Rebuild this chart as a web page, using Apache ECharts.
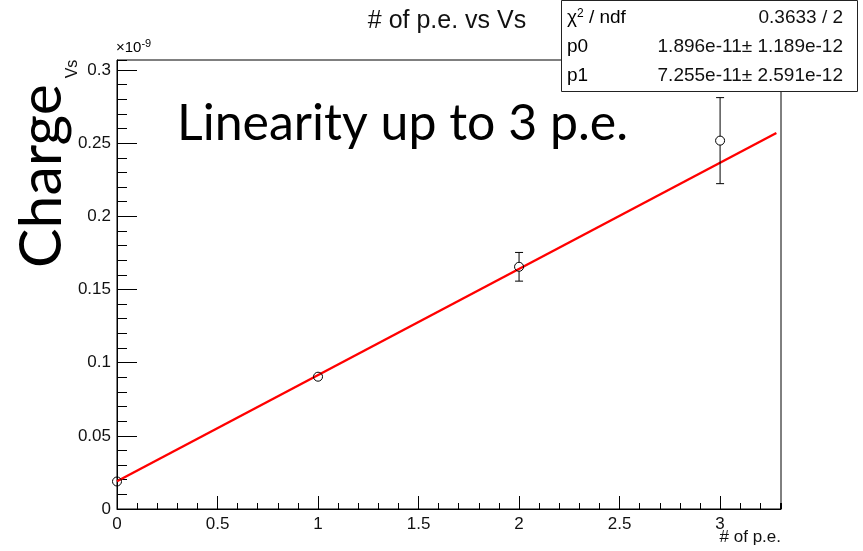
<!DOCTYPE html>
<html>
<head>
<meta charset="utf-8">
<script src="https://cdn.jsdelivr.net/npm/echarts@6/dist/echarts.min.js"></script>
<style>
  html, body { margin: 0; padding: 0; background: #fff; }
  #chart { width: 863px; height: 551px; }
</style>
</head>
<body>
<div id="chart"></div>
<script>
// Measured charge (units of 1e-9 Vs) vs number of photo-electrons
const pe = [0, 1, 2, 3];
const charge = [0.0188, 0.0904, 0.1655, 0.2517];
const chargeErr = [0.0012, 0.0025, 0.0098, 0.0294];

// Linear fit pol1: p0 + p1 * x   (Vs)
const p0 = 1.896e-11;
const p1 = 7.255e-11;
const fitRange = [0, 3.28];
const unitScale = 1e9;   // axis is shown in units of 1e-9

// Stats box rows
const statLabels = ['{n|χ}{sup|2}{n| / ndf}', 'p0', 'p1'];
const statValues = ['0.3633 / 2', '1.896e-11± 1.189e-12', '7.255e-11± 2.591e-12'];

// Axis ranges
const xMax = 3.303;
const yMax = 0.3068;

const fitLine = fitRange.map(x => [x, (p0 + p1 * x) * unitScale]);
const points = pe.map((x, i) => [x, charge[i], chargeErr[i]]);

const labelFont = 'Liberation Sans, Arial, sans-serif';
const fmt = v => String(Number(v.toFixed(4)));

const chart = echarts.init(document.getElementById('chart'), null, { renderer: 'canvas' });

const majorX = {
  type: 'value', min: 0, max: xMax, interval: 0.5,
  axisLine: { show: true, lineStyle: { color: '#000', width: 1 } },
  axisTick: { show: true, inside: true, length: 13, lineStyle: { color: '#000' } },
  axisLabel: {
    show: true, color: '#111', fontSize: 17, fontFamily: labelFont, margin: 7,
    showMaxLabel: false,
    formatter: v => (Math.abs(v / 0.5 - Math.round(v / 0.5)) < 1e-6 ? fmt(v) : '')
  },
  splitLine: { show: false }
};
const majorY = {
  type: 'value', min: 0, max: yMax, interval: 0.05,
  axisLine: { show: true, lineStyle: { color: '#000', width: 1 } },
  axisTick: { show: true, inside: true, length: 20, lineStyle: { color: '#000' } },
  axisLabel: {
    show: true, color: '#111', fontSize: 17, fontFamily: labelFont, margin: 6,
    showMaxLabel: false,
    formatter: v => (Math.abs(v / 0.05 - Math.round(v / 0.05)) < 1e-6 ? fmt(v) : '')
  },
  splitLine: { show: false }
};
const minorX = {
  type: 'value', gridIndex: 1, min: 0, max: xMax, interval: 0.1,
  axisLine: { show: false },
  axisTick: { show: true, inside: true, length: 6, lineStyle: { color: '#000' } },
  axisLabel: { show: false }, splitLine: { show: false }
};
const minorY = {
  type: 'value', gridIndex: 1, min: 0, max: yMax, interval: 0.01,
  axisLine: { show: false },
  axisTick: { show: true, inside: true, length: 10, lineStyle: { color: '#000' } },
  axisLabel: { show: false }, splitLine: { show: false }
};

const plotGrid = { left: 117, right: 82, top: 60, bottom: 42 };

const statRich = {
  n: { fontSize: 19, fontFamily: labelFont, color: '#111' },
  sup: { fontSize: 12, fontFamily: labelFont, color: '#111', verticalAlign: 'top', padding: [0, 0, 8, 0] }
};

chart.setOption({
  animation: false,
  backgroundColor: '#fff',
  grid: [
    Object.assign({ show: true, borderColor: '#000', borderWidth: 1, backgroundColor: 'transparent' }, plotGrid),
    Object.assign({ show: false }, plotGrid)
  ],
  xAxis: [majorX, minorX],
  yAxis: [majorY, minorY],
  series: [
    {
      name: 'fit', type: 'line', xAxisIndex: 0, yAxisIndex: 0,
      data: fitLine, showSymbol: false, symbol: 'none',
      lineStyle: { color: '#ff0000', width: 2.4 }, z: 2
    },
    {
      name: 'data', type: 'custom', xAxisIndex: 0, yAxisIndex: 0, z: 3,
      data: points,
      renderItem: (params, api) => {
        const x = api.value(0), y = api.value(1), e = api.value(2);
        const c = api.coord([x, y]);
        const hi = api.coord([x, y + e]);
        const lo = api.coord([x, y - e]);
        const r = 4.5, cap = 4;
        const style = { stroke: '#000', lineWidth: 1, fill: null };
        const children = [];
        if (c[1] - hi[1] > r) {
          children.push({ type: 'line', shape: { x1: c[0], y1: hi[1], x2: c[0], y2: c[1] - r }, style });
          children.push({ type: 'line', shape: { x1: c[0] - cap, y1: hi[1], x2: c[0] + cap, y2: hi[1] }, style });
        }
        if (lo[1] - c[1] > r) {
          children.push({ type: 'line', shape: { x1: c[0], y1: c[1] + r, x2: c[0], y2: lo[1] }, style });
          children.push({ type: 'line', shape: { x1: c[0] - cap, y1: lo[1], x2: c[0] + cap, y2: lo[1] }, style });
        }
        children.push({ type: 'circle', shape: { cx: c[0], cy: c[1], r: r }, style });
        return { type: 'group', children };
      }
    }
  ],
  graphic: [
    {
      type: 'text', x: 447, y: 21,
      style: { text: '# of p.e. vs Vs', font: '25px ' + labelFont, fill: '#111', align: 'center', verticalAlign: 'middle' }
    },
    {
      type: 'rect', shape: { x: 561.5, y: 0.5, width: 296, height: 91 },
      style: { fill: '#fff', stroke: '#222', lineWidth: 1 }, z: 10
    },
    ...statLabels.map((t, i) => ({
      type: 'text', x: 567, y: 18 + i * 29, z: 11,
      style: { text: t.indexOf('{') === 0 ? t : '{n|' + t + '}', rich: statRich, align: 'left', verticalAlign: 'middle' }
    })),
    ...statValues.map((t, i) => ({
      type: 'text', x: 843, y: 18 + i * 29, z: 11,
      style: { text: t, font: '19px ' + labelFont, fill: '#111', align: 'right', verticalAlign: 'middle' }
    })),
    {
      type: 'text', x: 116, y: 48,
      style: {
        text: '{a|×10}{b|-9}', align: 'left', verticalAlign: 'middle',
        rich: {
          a: { fontSize: 15, fontFamily: labelFont, color: '#111' },
          b: { fontSize: 11, fontFamily: labelFont, color: '#111', verticalAlign: 'top', padding: [0, 0, 8, 0] }
        }
      }
    },
    {
      type: 'text', x: 177, y: 99,
      style: { text: 'Linearity up to 3 p.e.', font: '50px Lato, sans-serif', fill: '#000', align: 'left', verticalAlign: 'top' }
    },
    {
      type: 'text', x: 42, y: 176, rotation: Math.PI / 2,
      style: { text: 'Charge', font: '59px Lato, sans-serif', fill: '#000', align: 'center', verticalAlign: 'middle' }
    },
    {
      type: 'text', x: 73, y: 69, rotation: Math.PI / 2,
      style: { text: 'Vs', font: '16px ' + labelFont, fill: '#111', align: 'center', verticalAlign: 'middle' }
    },
    {
      type: 'text', x: 781, y: 537,
      style: { text: '# of p.e.', font: '17px ' + labelFont, fill: '#111', align: 'right', verticalAlign: 'middle' }
    }
  ]
});
</script>
</body>
</html>
